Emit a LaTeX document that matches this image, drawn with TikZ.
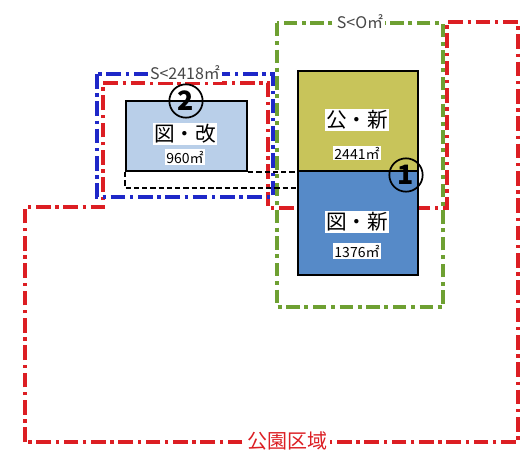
\documentclass[tikz,border=0pt]{standalone}
\usepackage{fontspec}
\setmainfont{Noto Sans CJK JP}
\begin{document}
\begin{tikzpicture}[x=0.75pt,y=-0.75pt,
  redline/.style={draw={rgb,255:red,220;green,30;blue,35},line width=2.6pt,dash pattern=on 11pt off 3.5pt on 2.5pt off 3.5pt},
  blueline/.style={draw={rgb,255:red,30;green,40;blue,200},line width=2.6pt,dash pattern=on 11pt off 3.5pt on 2.5pt off 3.5pt},
  greenline/.style={draw={rgb,255:red,110;green,160;blue,50},line width=2.4pt,dash pattern=on 10pt off 3.5pt on 3pt off 3.5pt},
  blkdash/.style={draw=black,line width=1.8pt,dash pattern=on 4pt off 2.2pt},
  bld/.style={draw=black,line width=1.5pt,inner sep=0pt},
  lbl/.style={fill=white,inner sep=1pt,font=\fontsize{15.5}{17}\selectfont},
  sml/.style={fill=white,inner sep=1pt,font=\fontsize{10.5}{12}\selectfont},
  toplbl/.style={fill=white,inner sep=1.5pt,font=\fontsize{12}{14}\selectfont,text={rgb,255:red,70;green,70;blue,70}},
  circ/.style={circle,draw=black,line width=1.3pt,inner sep=0pt,minimum size=25pt,font=\fontsize{20}{20}\selectfont\bfseries}
]
\useasboundingbox[fill=white] (0,0) rectangle (520,450);
% red park outline
\draw[redline] (25,442) -- (25,207) -- (103,207) -- (103,83) -- (268,83) -- (268,208) -- (447,208) -- (447,22) -- (518,22) -- (518,442) -- cycle;
\node[fill=white,inner sep=2pt,text={rgb,255:red,220;green,30;blue,35},font=\fontsize{15}{16}\selectfont] (park) at (287,441) {公園区域};
% blue outline
\draw[blueline] (97,74) rectangle (273,197);
\node[toplbl] (s1) at (185,73) {S<2418㎡};
% green outline
\draw[greenline] (277,23) rectangle (443,307);
\node[toplbl] (s2) at (360,22) {S<O㎡};
% boxes
\node[bld,fill={rgb,255:red,200;green,196;blue,90},minimum width=90pt,minimum height=75pt,anchor=north west] (kn) at (297,70) {};
\node[bld,fill={rgb,255:red,86;green,138;blue,200},minimum width=90pt,minimum height=78pt,anchor=north west] (zn) at (297,170) {};
\node[bld,fill={rgb,255:red,185;green,207;blue,233},minimum width=90.75pt,minimum height=52.5pt,anchor=north west] (zk) at (125,100) {};
% dashed connection
\draw[blkdash] (zk.south east) -- (kn.south west);
\draw[blkdash] (zk.south west) -- (125,188) -- (297,188);
% labels
\node[lbl] (t1) at (357,120) {公・新};
\node[sml] (t2) at (357,153) {2441㎡};
\node[lbl] (t3) at (357,222) {図・新};
\node[sml] (t4) at (357,251) {1376㎡};
\node[lbl] (t5) at (185,134) {図・改};
\node[sml] (t6) at (185,157) {960㎡};
% circled numbers
\node[circ] (c1) at (406,175) {1};
\node[circ] (c2) at (186,101) {2};
\end{tikzpicture}
\end{document}
